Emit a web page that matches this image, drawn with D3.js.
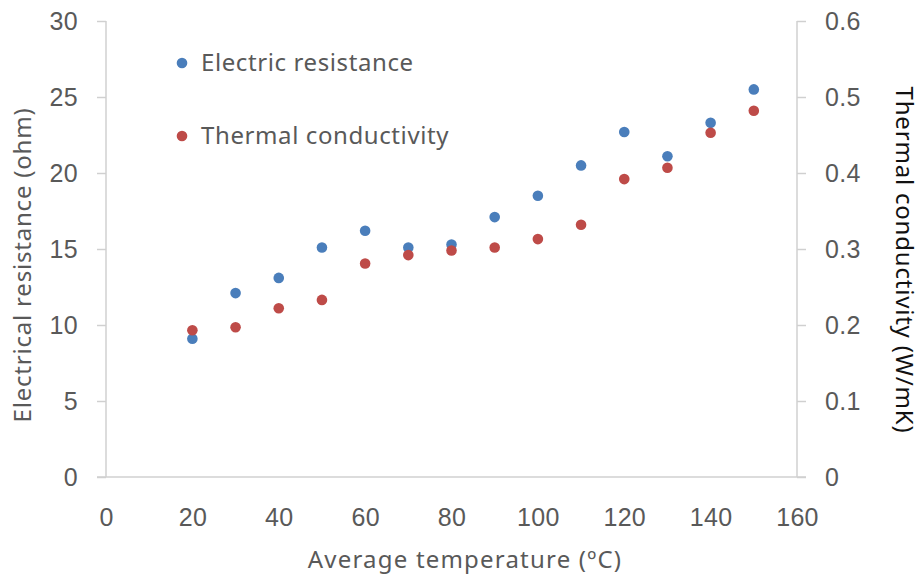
<!DOCTYPE html>
<html>
<head>
<meta charset="utf-8">
<script src="https://cdn.jsdelivr.net/npm/d3@7"></script>
<style>
  body { margin: 0; background: #fff; }
  svg { display: block; font-family: "Noto Sans", "Open Sans", sans-serif; }
  .axis path, .axis line { stroke: #d0d0d0; stroke-width: 1.5; }
  .axis text { fill: #595959; font-size: 25px; letter-spacing: 0.3px; }
</style>
</head>
<body>
<svg width="923" height="577"></svg>
<script>
'use strict';

// temperatures (deg C)
const temps = [20, 30, 40, 50, 60, 70, 80, 90, 100, 110, 120, 130, 140, 150];
// electric resistance (ohm), left axis
const resistance = [9.1, 12.1, 13.1, 15.1, 16.2, 15.1, 15.3, 17.1, 18.5, 20.5, 22.7, 21.1, 23.3, 25.5];
// thermal conductivity (W/mK), right axis
const conductivity = [0.193, 0.197, 0.222, 0.233, 0.281, 0.292, 0.298, 0.302, 0.313, 0.332, 0.392, 0.407, 0.453, 0.482];

const xTicks = [0, 20, 40, 60, 80, 100, 120, 140, 160];
const yLeftTicks = [0, 5, 10, 15, 20, 25, 30];
const yRightTicks = [0, 0.1, 0.2, 0.3, 0.4, 0.5, 0.6];

const seriesNames = ["Electric resistance", "Thermal conductivity"];
const colors = ["#4a7ebb", "#be4b48"];

const svg = d3.select("svg");
const margin = {top: 21, right: 126, bottom: 100, left: 106};
const width = 923 - margin.left - margin.right;   // 691
const height = 577 - margin.top - margin.bottom;  // 456

const x = d3.scaleLinear().domain([0, 160]).range([0, width]);
const yL = d3.scaleLinear().domain([0, 30]).range([height, 0]);
const yR = d3.scaleLinear().domain([0, 0.6]).range([height, 0]);

const g = svg.append("g")
    .attr("transform", "translate(" + margin.left + "," + margin.top + ")");

// x axis (no tick marks)
const xAxis = g.append("g")
    .attr("class", "axis axis--x")
    .attr("transform", "translate(0," + height + ")")
    .call(d3.axisBottom(x).tickValues(xTicks).tickSize(0).tickPadding(31).tickFormat(d3.format("d")));
xAxis.select(".domain").attr("d", "M-9,0H" + (width + 9));

g.append("g")
    .attr("class", "axis axis--y")
    .call(d3.axisLeft(yL).tickValues(yLeftTicks).tickSize(9).tickSizeOuter(0).tickPadding(19))
    .select(".domain").remove();
g.append("line")
    .attr("stroke", "#d0d0d0").attr("stroke-width", 1.5)
    .attr("x1", 0).attr("x2", 0).attr("y1", 0).attr("y2", height);

g.append("g")
    .attr("class", "axis axis--y2")
    .attr("transform", "translate(" + width + ",0)")
    .call(d3.axisRight(yR).tickValues(yRightTicks).tickSize(9).tickSizeOuter(0).tickPadding(19)
      .tickFormat(d => d === 0 ? "0" : d3.format(".1f")(d)))
    .select(".domain").remove();
g.append("line")
    .attr("stroke", "#d0d0d0").attr("stroke-width", 1.5)
    .attr("x1", width).attr("x2", width).attr("y1", 0).attr("y2", height);

// points
g.append("g").selectAll("circle")
    .data(temps)
    .join("circle")
    .attr("cx", d => x(d))
    .attr("cy", (d, i) => yL(resistance[i]))
    .attr("r", 5.3)
    .attr("fill", colors[0]);

g.append("g").selectAll("circle")
    .data(temps)
    .join("circle")
    .attr("cx", d => x(d))
    .attr("cy", (d, i) => yR(conductivity[i]))
    .attr("r", 5.3)
    .attr("fill", colors[1]);

// axis titles
svg.append("text")
    .attr("transform", "translate(31,265) rotate(-90)")
    .attr("text-anchor", "middle")
    .attr("fill", "#595959")
    .style("font-size", "24px")
    .style("letter-spacing", "0.8px")
    .text("Electrical resistance (ohm)");

svg.append("text")
    .attr("transform", "translate(896,260) rotate(90)")
    .attr("text-anchor", "middle")
    .attr("fill", "#111")
    .style("font-size", "24px")
    .style("letter-spacing", "0.8px")
    .text("Thermal conductivity (W/mK)");

svg.append("text")
    .attr("x", 465)
    .attr("y", 568)
    .attr("text-anchor", "middle")
    .attr("fill", "#595959")
    .style("font-size", "24px")
    .style("letter-spacing", "1.2px")
    .text("Average temperature (\u00baC)");

// legend
const legend = svg.append("g").selectAll("g")
    .data(seriesNames)
    .join("g")
    .attr("transform", (d, i) => "translate(182," + (63 + i * 73) + ")");
legend.append("circle").attr("r", 5.3).attr("fill", (d, i) => colors[i]);
legend.append("text")
    .attr("x", 19).attr("dy", "0.35em")
    .attr("fill", "#595959")
    .style("font-size", "24px")
    .style("letter-spacing", "0.6px")
    .text(d => d);
</script>
</body>
</html>
